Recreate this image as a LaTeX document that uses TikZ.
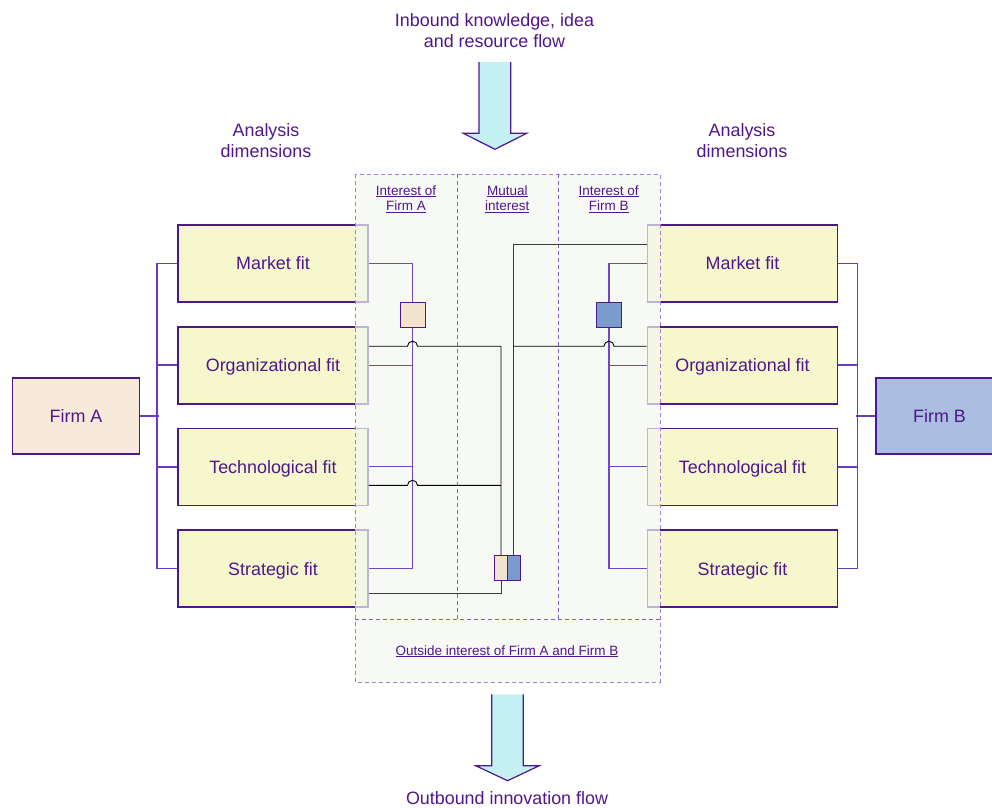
\documentclass[tikz,border=0pt]{standalone}
\usepackage{fontspec}
\setmainfont{Liberation Sans}
\usetikzlibrary{calc}

\definecolor{txt}{RGB}{80,22,140}
\definecolor{boxline}{RGB}{75,25,140}
\definecolor{busline}{RGB}{105,60,190}
\definecolor{linkline}{RGB}{112,72,196}
\definecolor{fityellow}{RGB}{247,247,206}
\definecolor{firmAfill}{RGB}{248,234,218}
\definecolor{firmBfill}{RGB}{170,190,225}
\definecolor{sqAfill}{RGB}{242,226,206}
\definecolor{sqBfill}{RGB}{122,156,205}
\definecolor{flowcyan}{RGB}{196,240,242}
\definecolor{panelfill}{RGB}{244,247,240}
\definecolor{paneldash}{RGB}{165,125,215}
\definecolor{coldash}{RGB}{135,95,200}
\definecolor{wiregrey}{RGB}{60,60,60}

\newcommand{\bigtxt}{\fontsize{17.9}{20.6}\selectfont}
\newcommand{\smalltxt}{\fontsize{13.5}{15.7}\selectfont}

\begin{document}
\begin{tikzpicture}[x={(1pt,0pt)}, y={(0pt,-1pt)},
  fitbox/.style={draw=boxline, line width=1.6pt, fill=fityellow,
    minimum width=190pt, minimum height=77pt, inner sep=0pt,
    font=\bigtxt, text=txt, text height=12.8pt, text depth=0pt},
  firmbox/.style={fitbox, minimum width=127pt, minimum height=76pt},
  bus/.style={draw=busline, line width=1.6pt},
  link/.style={draw=linkline, line width=1.1pt},
  wire/.style={draw=black, line width=0.9pt},
  sqbox/.style={draw=boxline, line width=1pt, minimum size=25pt, inner sep=0pt},
  halfbox/.style={draw=boxline, line width=1pt, minimum width=12.7pt,
    minimum height=25.4pt, inner sep=0pt},
  lbl/.style={anchor=base, align=center, font=\smalltxt, text=txt, inner sep=0pt},
  title/.style={anchor=base, align=center, font=\bigtxt, text=txt, inner sep=0pt},
  flowarrow/.style={draw=boxline, line width=1.2pt, line join=miter},
  panedash/.style={draw=paneldash, line width=0.9pt, dash pattern=on 4pt off 3pt},
  coldashed/.style={draw=coldash, line width=0.8pt, dash pattern=on 4pt off 3pt}]
\useasboundingbox (0,0) rectangle (992,807);

% dimension boxes, firm A side
\node[fitbox] (lm) at (273,263.5) {Market fit};
\node[fitbox] (lo) at (273,365.2) {Organizational fit};
\node[fitbox] (lt) at (273,466.9) {Technological fit};
\node[fitbox] (ls) at (273,568.6) {Strategic fit};
% dimension boxes, firm B side
\node[fitbox] (rm) at (742.5,263.5) {Market fit};
\node[fitbox] (ro) at (742.5,365.2) {Organizational fit};
\node[fitbox] (rt) at (742.5,466.9) {Technological fit};
\node[fitbox] (rs) at (742.5,568.6) {Strategic fit};
% the firms
\node[firmbox, fill=firmAfill] (fa) at (76,416) {Firm A};
\node[firmbox, fill=firmBfill] (fb) at (939.5,416) {Firm B};

% tree buses
\draw[bus] (lm.west) -- ++(-20,0) |- (ls.west);
\draw[bus] (lo.west) -- ++(-20,0);
\draw[bus] (lt.west) -- ++(-20,0);
\draw[bus] (fa.east) -- ++(18.5,0);
\draw[bus] (rm.east) -- ++(19,0) |- (rs.east);
\draw[bus] (ro.east) -- ++(19,0);
\draw[bus] (rt.east) -- ++(19,0);
\draw[bus] (fb.west) -- ++(-19,0);

% interest panel (translucent, over the box edges)
\fill[panelfill, fill opacity=0.7] (355,174) rectangle (660,682);
\draw[panedash] (355,174) rectangle (660,682);
\draw[coldashed] (457.3,174) -- (457.3,619) (558.7,174) -- (558.7,619) (355,619) -- (660,619);

% column headings (base anchor = last line)
\node[lbl] (la) at (406,210.7) {\underline{Interest of}\\\underline{Firm A}};
\node[lbl] (lmu) at (507.3,210.7) {\underline{Mutual}\\\underline{interest}};
\node[lbl] (lb) at (608.7,210.7) {\underline{Interest of}\\\underline{Firm B}};
\node[lbl] (lout) at (507,655) {\underline{Outside interest of Firm A and Firm B}};

% interest markers
\node[sqbox, fill=sqAfill] (sqa) at (412.5,314.5) {};
\node[sqbox, fill=sqBfill] (sqb) at (609,314.5) {};
\node[halfbox, fill=sqAfill] (ma) at (501,568) {};
\node[halfbox, fill=sqBfill] (mb) at (513.7,568) {};

% purple links to the single-firm markers
\draw[link] (lm.east) -| (sqa.north);
\draw[link] (sqa.south) |- (ls.east);
\draw[link] (lo.east) -- (lo.east -| sqa.south);
\draw[link] (lt.east) -- (lt.east -| sqa.south);
\draw[link] (rm.west) -| (sqb.north);
\draw[link] (sqb.south) |- (rs.west);
\draw[link] (ro.west) -- (ro.west -| sqb.south);
\draw[link] (rt.west) -- (rt.west -| sqb.south);

% black wires to the mutual marker
\coordinate (ao) at ($(lo.east)+(0,-19)$);
\coordinate (at) at ($(lt.east)+(0,18.4)$);
\coordinate (as) at ($(ls.east)+(0,25)$);
\coordinate (bm) at ($(rm.west)+(0,-19)$);
\coordinate (bo) at ($(ro.west)+(0,-19)$);
\draw[wire] (ao) -- ($(sqa.south |- ao)+(-5,0)$) arc[start angle=180, end angle=0, radius=5pt]
  -- (ma.north |- ao) -- (ma.north);
\draw[wire] (at) -- ($(sqa.south |- at)+(-5,0)$) arc[start angle=180, end angle=0, radius=5pt]
  -- (ma.north |- at);
\draw[wire, draw=wiregrey] (as) -| (ma.south);
\draw[wire, draw=wiregrey, line width=1.4pt] (bm) -| (mb.north);
\draw[wire] (bo) -- ($(sqb.south |- bo)+(5,0)$) arc[start angle=0, end angle=180, radius=5pt]
  -- (mb.north |- bo);

% inbound flow arrow
\fill[flowcyan] (479,62) -- (479,133.3) -- (463.3,133.3) -- (495,149.3) -- (526.7,133.3)
  -- (510.7,133.3) -- (510.7,62) -- cycle;
\draw[flowarrow] (479,62) -- (479,133.3) -- (463.3,133.3) -- (495,149.3) -- (526.7,133.3)
  -- (510.7,133.3) -- (510.7,62);
% outbound flow arrow
\fill[flowcyan] (491.7,694.3) -- (491.7,765.7) -- (475.7,765.7) -- (507.5,780.7) -- (539.3,765.7)
  -- (523.3,765.7) -- (523.3,694.3) -- cycle;
\draw[flowarrow] (491.7,694.3) -- (491.7,765.7) -- (475.7,765.7) -- (507.5,780.7) -- (539.3,765.7)
  -- (523.3,765.7) -- (523.3,694.3);

% captions (base anchor = last line)
\node[title] (tin) at (494.5,47.2) {Inbound knowledge, idea\\and resource flow};
\node[title] (adl) at (266,157.3) {Analysis\\dimensions};
\node[title] (adr) at (742,157.3) {Analysis\\dimensions};
\node[title] (tout) at (507,804) {Outbound innovation flow};
\end{tikzpicture}
\end{document}
